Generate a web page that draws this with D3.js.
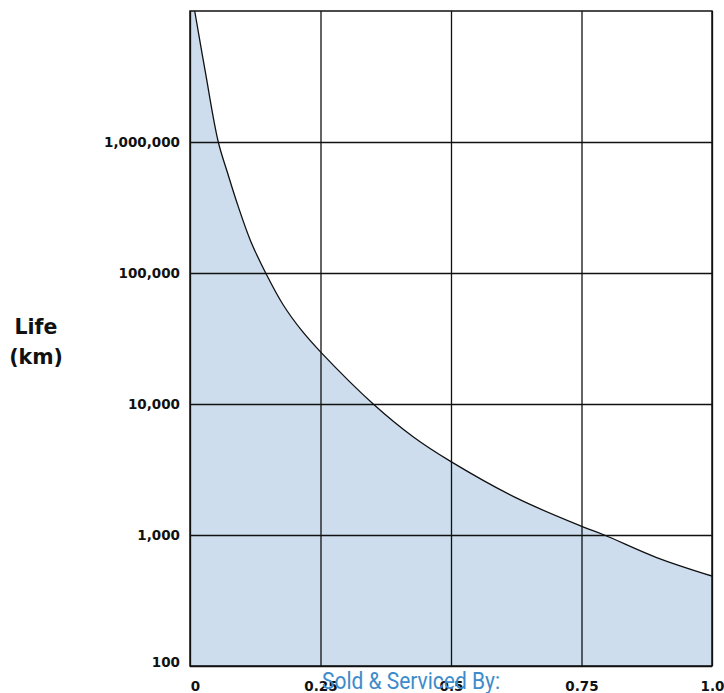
<!DOCTYPE html>
<html>
<head>
<meta charset="utf-8">
<script src="https://cdn.jsdelivr.net/npm/d3@7"></script>
<style>
    body { margin: 0; background: #fff; }
    svg { display: block; }
    .tick text { font-family: "DejaVu Sans", sans-serif; font-weight: bold; fill: #111; }
</style>
</head>
<body>
<svg id="chart" width="724" height="693"></svg>
<script>
// curve (x share, life in km)
const loadShare = [0, 0.009, 0.0293, 0.0542, 0.0722, 0.0925, 0.1163, 0.145, 0.1787, 0.2146, 0.25, 0.351, 0.428, 0.5, 0.626, 0.7515, 0.7937, 0.894, 1.0];
const lifeKm = [16000000, 10000000, 3440000, 1000000, 577000, 321000, 175000, 100000, 57000, 36100, 25000, 10000, 5600, 3630, 1910, 1160, 1000, 673, 486];

const xTicks = [0, 0.25, 0.5, 0.75, 1.0];
const xTickLabels = ['0', '0.25', '0.5', '0.75', '1.0'];
const yTicks = [100, 1000, 10000, 100000, 1000000];
const yTickLabels = ['100', '1,000', '10,000', '100,000', '1,000,000'];

const CHART_WIDTH = 724;
const CHART_HEIGHT = 693;
const MARGIN = { left: 190, right: 12, top: 11, bottom: 27 };

const svg = d3.select('#chart');
const plotW = CHART_WIDTH - MARGIN.left - MARGIN.right;
const plotH = CHART_HEIGHT - MARGIN.top - MARGIN.bottom;

const scaleX = d3.scaleLinear()
    .domain([0, 1])
    .range([0, plotW]);

const scaleY = d3.scaleLog()
    .domain([100, 10000000])
    .range([plotH, 0]);

const g = svg.append('g')
    .attr('transform', `translate(${MARGIN.left},${MARGIN.top})`);

g.append('clipPath')
    .attr('id', 'plot-clip')
    .append('rect')
    .attr('width', plotW)
    .attr('height', plotH);

const points = loadShare.map((d, i) => ({ x: d, y: lifeKm[i] }));
const smooth = d3.curveCatmullRom.alpha(0.5);

// shaded area under the curve
g.append('path')
    .datum(points)
    .attr('clip-path', 'url(#plot-clip)')
    .attr('fill', '#cddded')
    .attr('d', d3.area()
        .x(d => scaleX(d.x))
        .y0(plotH)
        .y1(d => scaleY(d.y))
        .curve(smooth));

// grid lines through the axes
const yAxis = d3.axisLeft(scaleY)
    .tickValues(yTicks)
    .tickSize(-plotW)
    .tickPadding(10)
    .tickFormat((d, i) => yTickLabels[i]);

g.append('g')
    .call(yAxis)
    .call(a => a.select('.domain').remove())
    .call(a => a.selectAll('.tick line').attr('stroke', '#111').attr('stroke-width', 1.3))
    .call(a => a.selectAll('.tick text').attr('font-size', 13.5).attr('dy', '0.34em'))
    .call(a => a.selectAll('.tick text').filter(d => d === 100).attr('dy', '0.05em'));

const xGrid = d3.axisBottom(scaleX)
    .tickValues(xTicks)
    .tickSize(-plotH)
    .tickFormat('');

g.append('g')
    .attr('transform', `translate(0,${plotH})`)
    .call(xGrid)
    .call(a => a.select('.domain').remove())
    .call(a => a.selectAll('.tick line').attr('stroke', '#111').attr('stroke-width', 1.3));

const xAxis = d3.axisBottom(scaleX)
    .tickValues(xTicks)
    .tickSize(0)
    .tickPadding(15)
    .tickFormat((d, i) => xTickLabels[i]);

g.append('g')
    .attr('transform', `translate(0,${plotH})`)
    .call(xAxis)
    .call(a => a.select('.domain').remove())
    .call(a => a.selectAll('.tick text').attr('font-size', 13.5))
    .call(a => a.selectAll('.tick text').filter(d => d === 0).attr('dx', 5));

// the curve
g.append('path')
    .datum(points)
    .attr('clip-path', 'url(#plot-clip)')
    .attr('fill', 'none')
    .attr('stroke', '#111')
    .attr('stroke-width', 1.3)
    .attr('d', d3.line()
        .x(d => scaleX(d.x))
        .y(d => scaleY(d.y))
        .curve(smooth));

// frame
g.append('rect')
    .attr('width', plotW)
    .attr('height', plotH)
    .attr('fill', 'none')
    .attr('stroke', '#111')
    .attr('stroke-width', 1.5);

// axis title
const title = svg.append('text')
    .attr('font-family', '"DejaVu Sans", sans-serif')
    .attr('font-weight', 'bold')
    .attr('font-size', 20.5)
    .attr('fill', '#111')
    .attr('text-anchor', 'middle');
title.append('tspan').attr('x', 36).attr('y', 334).text('Life');
title.append('tspan').attr('x', 36).attr('y', 364).text('(km)');

// footer
svg.append('text')
    .attr('x', 322)
    .attr('y', 689)
    .attr('font-family', 'Roboto, sans-serif')
    .attr('font-size', 24)
    .attr('fill', '#3d8bcb')
    .attr('textLength', 178)
    .attr('lengthAdjust', 'spacingAndGlyphs')
    .text('Sold & Serviced By:');
</script>
</body>
</html>
